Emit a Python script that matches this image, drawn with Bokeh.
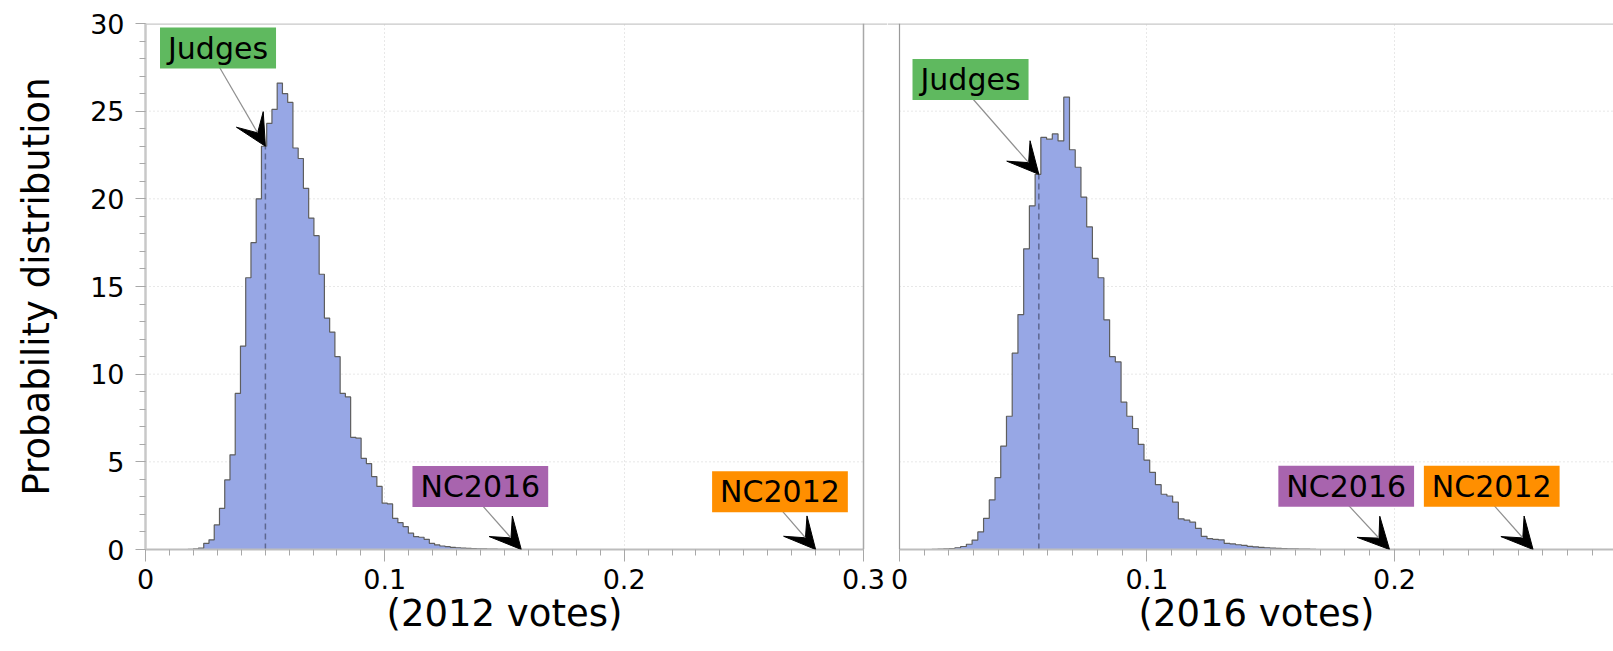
import numpy as np
from bokeh.plotting import figure
from bokeh.layouts import row
from bokeh.models import (Range1d, SingleIntervalTicker, Span, Label, Arrow, VeeHead,
                          CustomJSTickFormatter, Title)
from bokeh.embed import file_html
from bokeh.resources import INLINE

# ---------------- data ----------------
bin_start_2012 = 0.01776
bin_width_2012 = 0.002192
density_2012 = [0.01, 0.03, 0.08, 0.35, 0.55, 1.4, 2.35, 3.97, 5.4, 8.9,
                11.6, 15.5, 17.5, 20.0, 23.0, 24.3, 25.1, 26.6, 26.0, 25.5,
                22.9, 22.3, 20.6, 18.9, 17.9, 15.7, 13.2, 12.4, 11.0, 8.9,
                8.7, 6.4, 6.35, 5.2, 4.9, 4.16, 3.6, 2.64, 2.6, 1.78,
                1.53, 1.3, 0.93, 0.73, 0.7, 0.58, 0.35, 0.26, 0.2, 0.16,
                0.12, 0.1, 0.08, 0.06, 0.05, 0.04, 0.03, 0.02, 0.02, 0.01,
                0.01, 0.01]

bin_start_2016 = 0.01313
bin_width_2016 = 0.002315
density_2016 = [0.01, 0.02, 0.03, 0.05, 0.1, 0.17, 0.3, 0.54, 1.0, 1.78,
                2.83, 4.1, 5.9, 7.6, 11.2, 13.4, 17.15, 19.6, 21.4, 23.5,
                23.4, 23.7, 23.3, 25.8, 22.8, 21.8, 20.1, 18.4, 16.6, 15.5,
                13.1, 11.0, 10.7, 8.4, 7.6, 6.9, 6.0, 5.1, 4.4, 3.7,
                3.15, 3.05, 2.7, 1.75, 1.67, 1.56, 1.2, 0.75, 0.62, 0.58,
                0.55, 0.35, 0.32, 0.27, 0.24, 0.18, 0.15, 0.12, 0.1, 0.08,
                0.06, 0.05, 0.04, 0.03, 0.02, 0.02, 0.01]

judges_2012 = 0.0501
judges_2016 = 0.0563
nc2016_in_2012 = 0.157
nc2012_in_2012 = 0.280
nc2016_in_2016 = 0.198
nc2012_in_2016 = 0.256

x_labels = ["(2012 votes)", "(2016 votes)"]
y_label = "Probability distribution"
y_max = 30
y_ticks_interval = 5
x_ticks_interval = 0.1
x_max_2012 = 0.3
x_max_2016 = 0.2885

# label box centres (data units): (text, x, y, colour)
labels_2012 = [("Judges", 0.0303, 28.6, "#5fb95f"),
               ("NC2016", 0.1399, 3.59, "#a864ae"),
               ("NC2012", 0.2651, 3.29, "#ff8f00")]
labels_2016 = [("Judges", 0.0287, 26.8, "#5fb95f"),
               ("NC2016", 0.1805, 3.61, "#a864ae"),
               ("NC2012", 0.2393, 3.61, "#ff8f00")]

FONT = "DejaVu Sans"
FILL = "#97a7e5"
GRID = "#d0d0d0"
TICK_COL = "#a8a8a8"
XTITLE_PX = 37
XTITLE_EM = 6.374          # advance width of "(20xx votes)" in DejaVu Sans, in em


def style_axes(p, xlabel, x_max, x_start, scale):
    p.xaxis.ticker = SingleIntervalTicker(interval=x_ticks_interval, num_minor_ticks=10)
    p.xaxis.formatter = CustomJSTickFormatter(code="return String(Number(tick.toFixed(2)));")
    ax = p.xaxis[0]
    ax.bounds = (0, x_max + 1e-6)
    ax.axis_line_color = "#bdbdbd"
    ax.axis_line_width = 2
    ax.major_tick_line_color = TICK_COL
    ax.minor_tick_line_color = TICK_COL
    ax.major_tick_out = 12
    ax.major_tick_in = 0
    ax.minor_tick_out = 6
    ax.minor_tick_in = 0
    ax.major_label_text_font = FONT
    ax.major_label_text_font_size = "27px"
    ax.major_label_text_color = "black"
    ax.major_label_standoff = 7
    # x title centred on the panel's own extent (0 .. x_max), not on the whole frame
    centre_px = (x_max / 2 - x_start) * scale
    offset = int(round(centre_px - XTITLE_EM * XTITLE_PX / 2))
    p.add_layout(Title(text=xlabel, align="left", offset=offset, vertical_align="top",
                       standoff=0, text_font=FONT, text_font_size=f"{XTITLE_PX}px",
                       text_font_style="normal", text_color="black"), "below")
    p.yaxis.ticker = SingleIntervalTicker(interval=y_ticks_interval, num_minor_ticks=5)
    g = p.xgrid[0]
    g.grid_line_color = GRID
    g.grid_line_dash = "1 3"
    g.grid_line_width = 1
    p.ygrid.visible = False
    # horizontal dotted grid lines, limited to the panel's own x extent
    gy = np.arange(y_ticks_interval, y_max, y_ticks_interval)
    p.segment(x0=np.zeros(len(gy)), y0=gy, x1=np.full(len(gy), x_max), y1=gy,
              line_color=GRID, line_dash="1 3", line_width=1)
    p.add_layout(Span(location=y_max, dimension="width", line_color="#c8c8c8",
                      line_width=2.5))


def draw_hist(p, start, width, dens, judge, labels, nc16, nc12):
    h = np.asarray(dens, dtype=float)
    edges = start + width * np.arange(len(h) + 1)
    ytop = np.append(h, 0.0)
    p.varea_step(x=edges, y1=np.zeros(len(edges)), y2=ytop, step_mode="after",
                 fill_color=FILL)
    p.step(x=np.concatenate([[edges[0]], edges]), y=np.concatenate([[0.0], ytop]),
           mode="after", line_color="#5e5e5e", line_width=1.2)
    k = int((judge - start) // width)
    hj = h[k]
    p.segment(x0=[judge], y0=[0], x1=[judge], y1=[hj], line_color="#5d6790",
              line_width=1.5, line_dash="6 4")
    targets = {"Judges": (judge, hj), "NC2016": (nc16, 0.0), "NC2012": (nc12, 0.0)}
    for text, lx, ly, col in labels:
        tx, ty = targets[text]
        p.add_layout(Arrow(end=VeeHead(size=31, fill_color="black", line_color="black",
                                       line_width=1),
                           x_start=lx, y_start=ly - 0.95, x_end=tx, y_end=ty,
                           line_color="#8f8f8f", line_width=1.2))
        p.add_layout(Label(x=lx, y=ly, text=text, text_font=FONT, text_font_size="30px",
                           text_color="black", text_align="center", text_baseline="middle",
                           background_fill_color=col,
                           padding=dict(left=8, right=8, top=3, bottom=3)))


H = 651
TOP = 23
BOTTOM = 102
SCALE_2012 = 718 / x_max_2012          # px per unit in the left frame
SCALE_2016 = 2475.0                    # px per unit in the right frame

# ---------------- left panel ----------------
W1 = 887
x0_2012 = 0.0
p1 = figure(width=W1, height=H,
            x_range=Range1d(x0_2012, (W1 - 145) / SCALE_2012), y_range=Range1d(0, y_max),
            output_backend="svg", toolbar_location=None,
            min_border_left=145, min_border_right=0, min_border_top=TOP,
            min_border_bottom=BOTTOM)
p1.outline_line_color = None
style_axes(p1, x_labels[0], x_max_2012, x0_2012, SCALE_2012)
ya = p1.yaxis[0]
ya.axis_line_color = "#c8c8c8"
ya.axis_line_width = 2.5
ya.major_tick_line_color = TICK_COL
ya.minor_tick_line_color = TICK_COL
ya.major_tick_out = 10
ya.major_tick_in = 0
ya.minor_tick_out = 6
ya.minor_tick_in = 0
ya.major_label_text_font = FONT
ya.major_label_text_font_size = "27px"
ya.major_label_text_color = "black"
ya.major_label_standoff = 11
ya.axis_label = y_label
ya.axis_label_text_font = FONT
ya.axis_label_text_font_size = "37px"
ya.axis_label_text_font_style = "normal"
ya.axis_label_text_color = "black"
ya.axis_label_standoff = 29
p1.add_layout(Span(location=x_max_2012, dimension="height", line_color="#a8a8a8",
                   line_width=1.5))
draw_hist(p1, bin_start_2012, bin_width_2012, density_2012, judges_2012, labels_2012,
          nc2016_in_2012, nc2012_in_2012)

# ---------------- right panel ----------------
W2 = 1613 - W1
x0_2016 = -(899 - W1) / SCALE_2016
p2 = figure(width=W2, height=H,
            x_range=Range1d(x0_2016, x_max_2016), y_range=p1.y_range,
            output_backend="svg", toolbar_location=None,
            min_border_left=0, min_border_right=0, min_border_top=TOP,
            min_border_bottom=BOTTOM)
p2.outline_line_color = None
style_axes(p2, x_labels[1], x_max_2016, x0_2016, SCALE_2016)
p2.yaxis.visible = False
p2.add_layout(Span(location=0, dimension="height", line_color="#9a9a9a", line_width=1.2))
draw_hist(p2, bin_start_2016, bin_width_2016, density_2016, judges_2016, labels_2016,
          nc2016_in_2016, nc2012_in_2016)

layout = row(p1, p2)
open("out.html", "w").write(file_html(layout, INLINE))
